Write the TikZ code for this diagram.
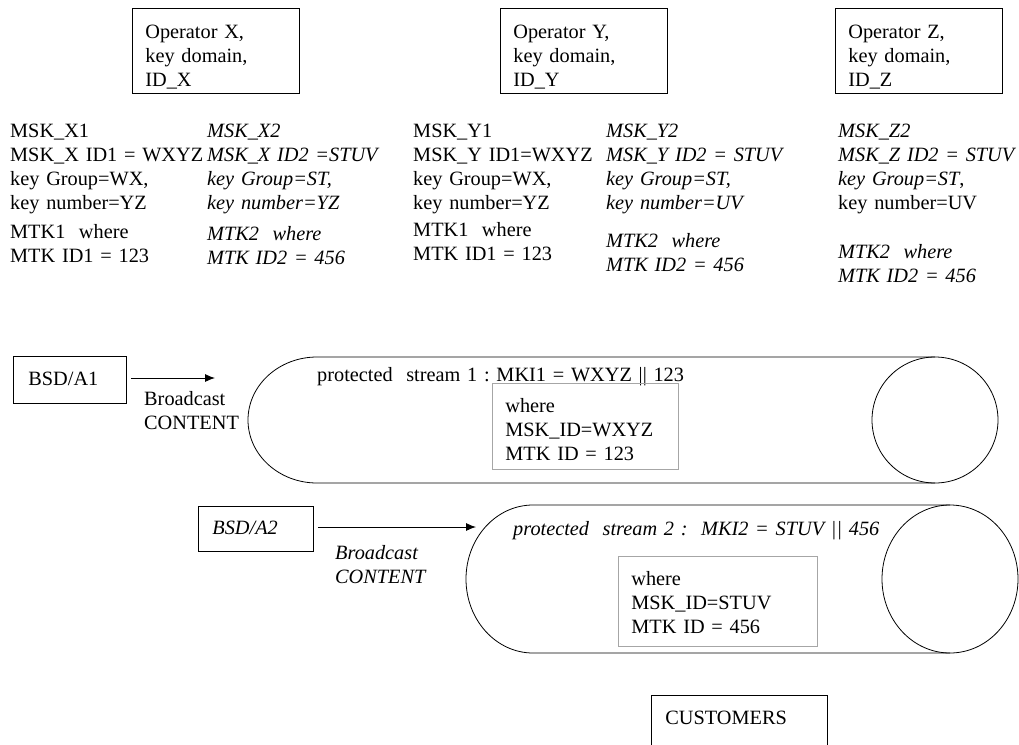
\documentclass[tikz,border=0pt]{standalone}
\usepackage{fontspec}
\setmainfont{Liberation Serif}
\usetikzlibrary{arrows.meta}
\frenchspacing

\tikzset{
    txt/.style={inner sep=0pt, anchor=base west, align=left, text width=200pt, font=\fontsize{20.3}{24}\selectfont},
    itxt/.style={txt, font=\fontsize{20.3}{24}\selectfont\itshape},
    box/.style={draw, line width=0.8pt, anchor=north west, align=left, inner ysep=0pt, font=\fontsize{20.3}{24}\selectfont},
    opbox/.style={box, text width=141pt, inner xsep=13pt, text height=30pt, text depth=55pt},
    keybox/.style={box, draw=gray!70},
    stream/.style={line width=0.8pt},
    bcast/.style={-{Latex[length=10pt,width=8pt]}, line width=0.9pt, shorten <=4pt}
}

\begin{document}
\begin{tikzpicture}[x=1pt,y=1pt]
            \useasboundingbox (0,0) rectangle (1019,-744);

            % operators
            \node[opbox] (opX) at (132,-8) {Operator X,\\key domain,\\ID\_X};
            \node[opbox] (opY) at (500,-8) {Operator Y,\\key domain,\\ID\_Y};
            \node[opbox] (opZ) at (835,-8) {Operator Z,\\key domain,\\ID\_Z};

            % keys per operator
            \node[txt] (mskX1) at (10,-137) {MSK\_X1\\MSK\_X ID1 = WXYZ\\key Group=WX,\\key number=YZ};
            \node[txt] (mtkX1) at (10,-238) {MTK1\ \ where\\MTK ID1 = 123};
            \node[itxt] (mskX2) at (207,-137) {MSK\_X2\\MSK\_X ID2 =STUV\\key Group=ST,\\key number=YZ};
            \node[itxt] (mtkX2) at (207,-240) {MTK2\ \ where\\MTK ID2 = 456};

            \node[txt] (mskY1) at (413,-137) {MSK\_Y1\\MSK\_Y ID1=WXYZ\\key Group=WX,\\key number=YZ};
            \node[txt] (mtkY1) at (413,-236) {MTK1\ \ where\\MTK ID1 = 123};
            \node[itxt] (mskY2) at (606,-137) {MSK\_Y2\\MSK\_Y ID2 = STUV\\key Group=ST,\\key number=UV};
            \node[itxt] (mtkY2) at (606,-247) {MTK2\ \ where\\MTK ID2 = 456};

            \node[txt] (mskZ2) at (838,-137) {\textit{MSK\_Z2}\\\textit{MSK\_Z ID2 = STUV}\\\textit{key Group=ST},\\key number=UV};
            \node[itxt] (mtkZ2) at (838,-258) {MTK2\ \ where\\MTK ID2 = 456};

            % stream 1
            \node[box, text width=83pt, inner xsep=15pt, text height=29pt, text depth=18pt] (a1) at (13,-356) {BSD/A1};
            \coordinate (s1in) at (215,-378);
            \draw[bcast] (a1.east |- s1in) -- (s1in);
            \node[txt] (bc1) at (144,-405) {Broadcast\\CONTENT};

            \draw[stream] (935,-357) -- (317,-357) arc[start angle=90, end angle=270, x radius=69, y radius=63] -- (935,-483);
            \draw[stream] (935,-420) ellipse[x radius=63, y radius=63];
            \node[txt, text width=400pt] (ps1) at (317,-381) {protected\ \ stream 1 : MKI1 = WXYZ || 123};
            \node[keybox, text width=160pt, inner xsep=13pt, text height=29pt, text depth=57pt] (k1) at (492,-383) {where\\MSK\_ID=WXYZ\\MTK ID = 123};

            % stream 2
            \node[box, text width=87pt, inner xsep=14pt, text height=28pt, text depth=17pt, font=\fontsize{20.3}{24}\selectfont\itshape] (a2) at (198,-506) {BSD/A2};
            \coordinate (s2in) at (476,-527);
            \draw[bcast] (a2.east |- s2in) -- (s2in);
            \node[itxt] (bc2) at (335,-559) {Broadcast\\CONTENT};

            \draw[stream] (950,-505) -- (533,-505) arc[start angle=90, end angle=270, x radius=67, y radius=74] -- (950,-653);
            \draw[stream] (950,-579) ellipse[x radius=68, y radius=74];
            \node[itxt, text width=400pt] (ps2) at (513,-535) {protected\ \ stream 2 :\ \ MKI2 = STUV || 456};
            \node[keybox, text width=173pt, inner xsep=13pt, text height=29pt, text depth=61pt] (k2) at (618,-556) {where\\MSK\_ID=STUV\\MTK ID = 456};

            \node[box, text width=148pt, inner xsep=14pt, text height=29pt, text depth=60pt] (cust) at (651,-695) {CUSTOMERS};
\end{tikzpicture}
\end{document}
